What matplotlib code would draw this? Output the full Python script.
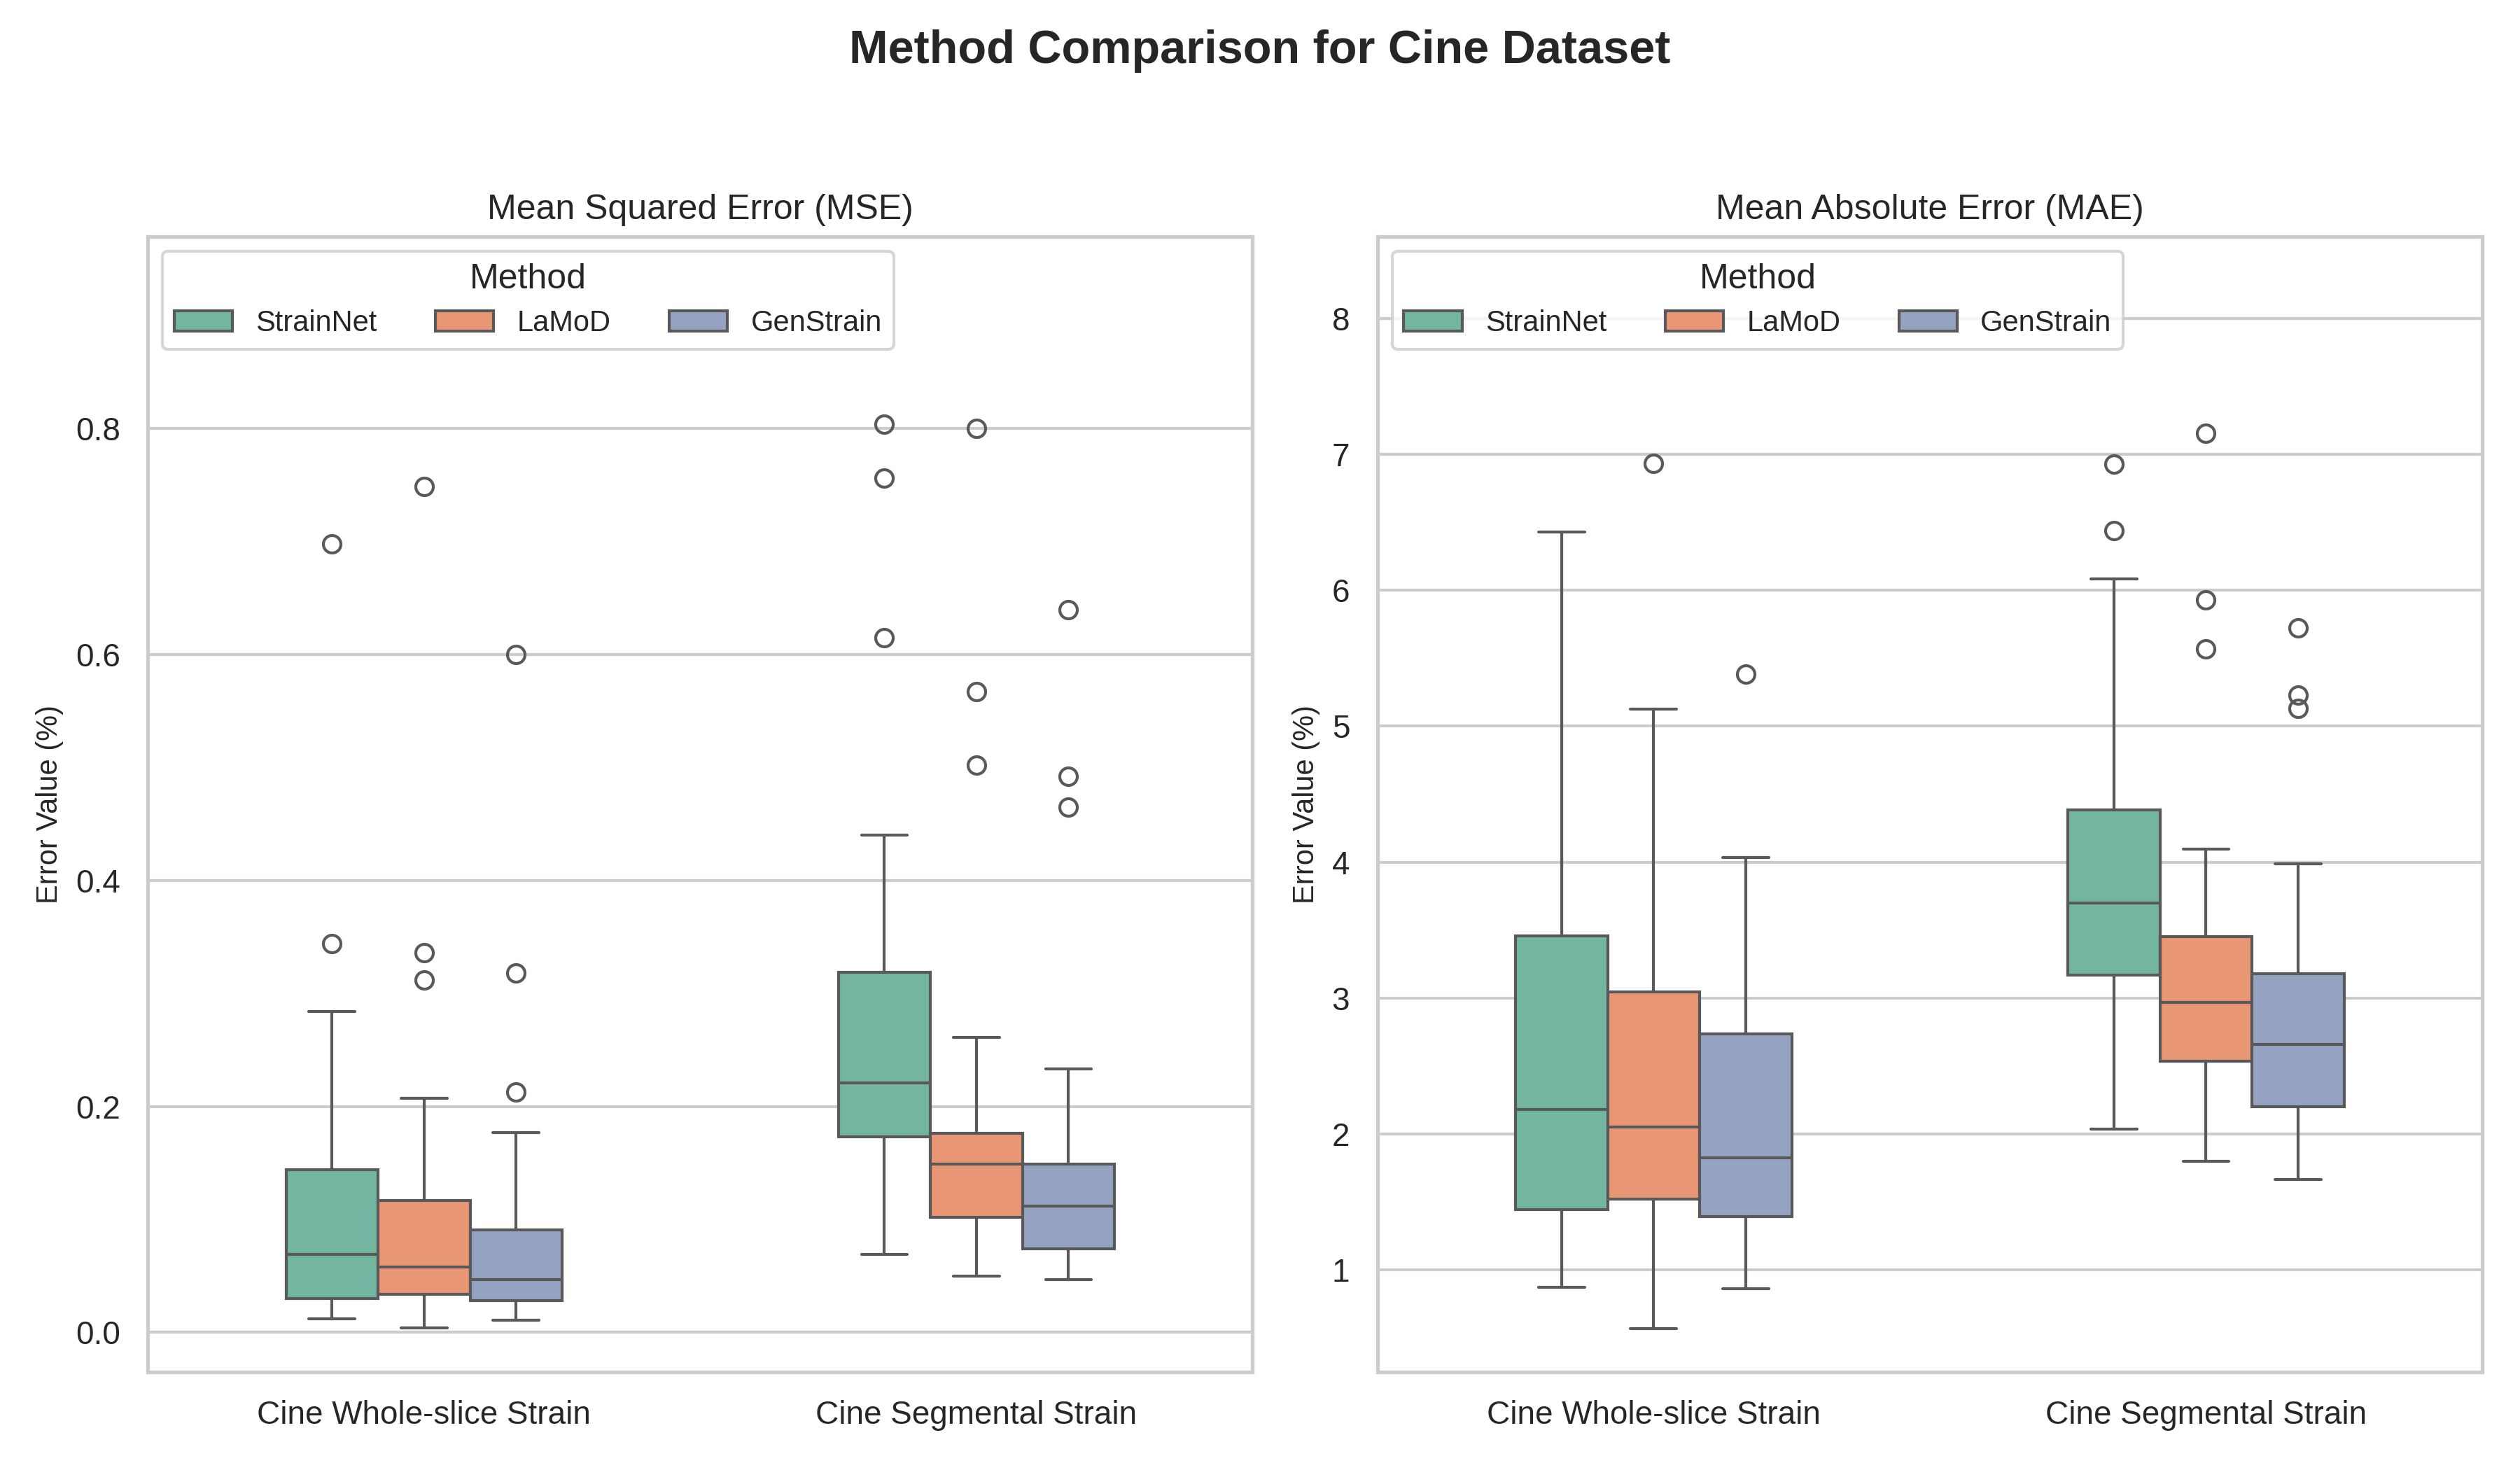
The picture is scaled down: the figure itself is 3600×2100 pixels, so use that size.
import matplotlib
matplotlib.use("Agg")
import matplotlib.pyplot as plt
from matplotlib.patches import Patch
import seaborn as sns

categories = ["Cine Whole-slice Strain", "Cine Segmental Strain"]
methods = ["StrainNet", "LaMoD", "GenStrain"]

# box stats: [whislo, q1, median, q3, whishi], one row per category
mse_strainnet = [[0.012, 0.030, 0.069, 0.144, 0.284], [0.069, 0.173, 0.221, 0.319, 0.440]]
mse_lamod = [[0.004, 0.034, 0.058, 0.117, 0.207], [0.050, 0.102, 0.149, 0.176, 0.261]]
mse_genstrain = [[0.011, 0.028, 0.047, 0.091, 0.177], [0.047, 0.074, 0.112, 0.149, 0.233]]
mse_strainnet_out = [[0.344, 0.698], [0.615, 0.756, 0.804]]
mse_lamod_out = [[0.312, 0.336, 0.749], [0.502, 0.567, 0.800]]
mse_genstrain_out = [[0.213, 0.318, 0.600], [0.465, 0.492, 0.640]]

mae_strainnet = [[0.871, 1.442, 2.179, 3.459, 6.428], [2.034, 3.169, 3.700, 4.382, 6.081]]
mae_lamod = [[0.570, 1.520, 2.051, 3.046, 5.125], [1.799, 2.537, 2.968, 3.454, 4.097]]
mae_genstrain = [[0.860, 1.391, 1.827, 2.738, 4.035], [1.665, 2.202, 2.660, 3.180, 3.985]]
mae_strainnet_out = [[], [6.439, 6.925]]
mae_lamod_out = [[6.931], [5.567, 5.930, 7.154]]
mae_genstrain_out = [[5.382], [5.131, 5.226, 5.723]]

panels = [
    ("Mean Squared Error (MSE)", [mse_strainnet, mse_lamod, mse_genstrain],
     [mse_strainnet_out, mse_lamod_out, mse_genstrain_out], (-0.035, 0.97)),
    ("Mean Absolute Error (MAE)", [mae_strainnet, mae_lamod, mae_genstrain],
     [mae_strainnet_out, mae_lamod_out, mae_genstrain_out], (0.25, 8.6)),
]

sns.set_theme(style="whitegrid")
plt.rcParams["font.family"] = ["Liberation Sans", "DejaVu Sans"]

colors = [sns.desaturate(c, 0.75) for c in sns.color_palette("Set2", 3)]
lc = (0.348, 0.348, 0.348)
lw = 1.0
bw = 0.5 / len(methods)

fig, axes = plt.subplots(1, 2, figsize=(12, 7))
fig.subplots_adjust(left=0.0587, right=0.985, top=0.839, bottom=0.0667, wspace=0.113)

for ax, (title, series, outs, ylim) in zip(axes, panels):
    for j, (vals, fl) in enumerate(zip(series, outs)):
        stats = []
        for i in range(len(categories)):
            lo, q1, med, q3, hi = vals[i]
            stats.append(dict(whislo=lo, q1=q1, med=med, q3=q3, whishi=hi, fliers=fl[i]))
        pos = [i + (j - 1) * bw for i in range(len(categories))]
        ax.bxp(stats, positions=pos, widths=bw, capwidths=bw / 2, patch_artist=True,
               manage_ticks=False,
               boxprops=dict(facecolor=colors[j], edgecolor=lc, linewidth=lw),
               whiskerprops=dict(color=lc, linewidth=lw),
               capprops=dict(color=lc, linewidth=lw),
               medianprops=dict(color=lc, linewidth=lw),
               flierprops=dict(marker="o", markerfacecolor="none", markeredgecolor=lc,
                               markersize=6, markeredgewidth=lw))
    ax.set_xticks(range(len(categories)))
    ax.set_xticklabels(categories)
    ax.set_xlim(-0.5, len(categories) - 0.5)
    ax.set_ylim(*ylim)
    ax.xaxis.grid(False)
    ax.set_title(title)
    ax.set_ylabel("Error Value (%)", fontsize=10)
    handles = [Patch(facecolor=colors[j], edgecolor=lc, linewidth=lw, label=m)
               for j, m in enumerate(methods)]
    ax.legend(handles=handles, title="Method", ncol=3, loc="upper left",
              fontsize=10, title_fontsize=12)

fig.suptitle("Method Comparison for Cine Dataset", fontsize=16, fontweight="bold")
fig.savefig("out.png", dpi=300)
